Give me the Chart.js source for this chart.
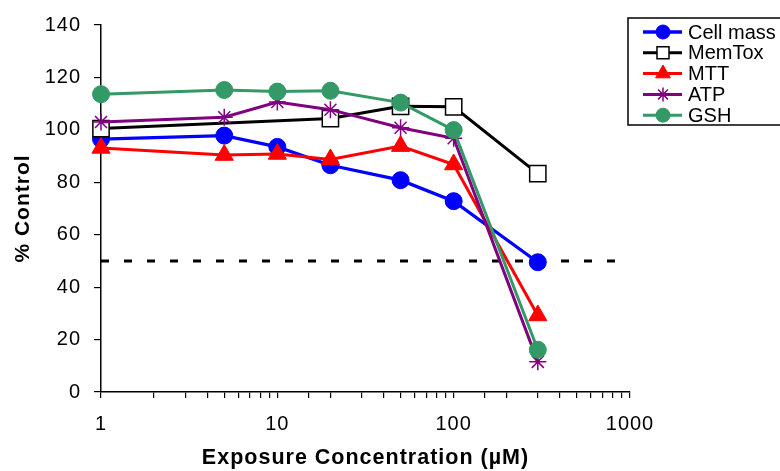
<!DOCTYPE html>
<html>
<head>
<meta charset="utf-8">
<script src="https://cdn.jsdelivr.net/npm/chart.js@4"></script>
<style>
  html, body { margin: 0; padding: 0; background: #fff; }
  #wrap { width: 780px; height: 471px; position: relative; }
</style>
</head>
<body>
<div id="wrap"><canvas id="c" width="780" height="471"></canvas></div>
<script>
// ---- data ----
const concentrations = [1, 5, 10, 20, 50, 100, 300];
const cellMass = [96.5, 97.8, 93.5, 86.5, 80.8, 72.8, 49.5];
const memToxConc = [1, 20, 50, 100, 300];
const memTox = [100.5, 104.3, 109.0, 108.8, 83.3];
const mtt = [93.1, 90.4, 90.8, 88.7, 93.8, 86.8, 29.2];
const atp = [103.0, 104.8, 110.6, 107.7, 100.8, 96.8, 11.5];
const gsh = [113.6, 115.2, 114.6, 114.9, 110.4, 99.9, 16.1];
const thresholdConc = [1, 1000];
const thresholdValue = [50, 50];
const xTickLabels = [1, 10, 100, 1000];
const seriesNames = ['Cell mass', 'MemTox', 'MTT', 'ATP', 'GSH'];

const pts = (xs, ys) => xs.map((x, i) => ({ x: x, y: ys[i] }));
const FONT = "'Liberation Sans', Arial, sans-serif";

const styles = [
  { color: '#0000FF', pointStyle: 'circle', radius: 8.5, fill: '#0000FF', bw: 3.3, legendR: 7 },
  { color: '#000000', pointStyle: 'rect', radius: 11.5, fill: '#FFFFFF', bw: 3, legendR: 8.5, pbw: 1.5 },
  { color: '#FF0000', pointStyle: 'triangle', radius: 10.5, fill: '#FF0000', bw: 3, legendR: 8.5 },
  { color: '#800080', pointStyle: 'star', radius: 8.5, fill: '#800080', bw: 3, legendR: 7, pbw: 1.5 },
  { color: '#339966', pointStyle: 'circle', radius: 8.5, fill: '#339966', bw: 3, legendR: 7 }
];
const seriesData = [
  pts(concentrations, cellMass),
  pts(memToxConc, memTox),
  pts(concentrations, mtt),
  pts(concentrations, atp),
  pts(concentrations, gsh)
];

const datasets = seriesNames.map((name, i) => ({
  label: name,
  data: seriesData[i],
  borderColor: styles[i].color,
  backgroundColor: styles[i].fill,
  borderWidth: styles[i].bw,
  pointStyle: styles[i].pointStyle,
  pointRadius: styles[i].radius,
  pointHoverRadius: styles[i].radius,
  pointBackgroundColor: styles[i].fill,
  pointBorderColor: styles[i].color,
  pointBorderWidth: styles[i].pbw || 1,
  tension: 0,
  fill: false,
  clip: false,
  order: 5 - i
}));
datasets.push({
  label: '50% line',
  data: pts(thresholdConc, thresholdValue),
  borderColor: '#000000',
  borderWidth: 3,
  borderDash: [8, 15],
  borderCapStyle: 'butt',
  pointRadius: 0,
  fill: false,
  clip: false,
  order: 10
});

const spacingPlugin = {
  id: 'letterSpacing',
  beforeUpdate(chart) { chart.ctx.letterSpacing = '1px'; },
  beforeLayout(chart) { chart.ctx.letterSpacing = '1px'; },
  beforeDraw(chart) { chart.ctx.letterSpacing = '1px'; }
};

const legendPlugin = {
  id: 'boxLegend',
  afterDraw(chart) {
    const ctx = chart.ctx;
    const left = 628, top = 18, w = 170, h = 107;
    ctx.save();
    ctx.letterSpacing = '0px';
    ctx.fillStyle = '#ffffff';
    ctx.fillRect(left, top, w, h);
    ctx.strokeStyle = '#000000';
    ctx.lineWidth = 1.5;
    ctx.strokeRect(left, top, w, h);
    seriesNames.forEach((name, i) => {
      const y = 32 + i * 20.8;
      const s = styles[i];
      ctx.strokeStyle = s.color;
      ctx.lineWidth = s.bw;
      ctx.setLineDash([]);
      ctx.beginPath();
      ctx.moveTo(643, y);
      ctx.lineTo(682, y);
      ctx.stroke();
      ctx.fillStyle = s.fill;
      ctx.strokeStyle = s.color;
      ctx.lineWidth = s.pbw || 1;
      Chart.helpers.drawPoint(ctx, { pointStyle: s.pointStyle, radius: s.legendR, borderWidth: s.pbw || 1, rotation: 0 }, 663, y);
      ctx.fillStyle = '#000000';
      ctx.font = '20px ' + FONT;
      ctx.textBaseline = 'middle';
      ctx.textAlign = 'left';
      ctx.fillText(name, 688, y + 1);
    });
    ctx.restore();
  }
};

new Chart(document.getElementById('c'), {
  type: 'line',
  data: { datasets: datasets },
  options: {
    responsive: false,
    animation: false,
    devicePixelRatio: 1,
    layout: { padding: { left: 0, top: 19, right: 150, bottom: 0 } },
    plugins: { legend: { display: false }, tooltip: { enabled: false } },
    scales: {
      x: {
        type: 'logarithmic',
        min: 1,
        max: 1000,
        afterFit(scale) { scale.height = 79; },
        border: { display: true, color: '#000000', width: 1.5 },
        grid: { display: true, drawOnChartArea: false, drawTicks: true, tickLength: 6, color: '#000000', tickColor: '#000000', lineWidth: 1.2 },
        ticks: {
          autoSkip: false,
          maxRotation: 0,
          padding: 14,
          color: '#000000',
          font: { family: FONT, size: 20 },
          callback(value) {
            return xTickLabels.includes(Number(value)) ? String(value) : '';
          }
        },
        title: {
          display: true,
          text: 'Exposure Concentration (µM)',
          color: '#000000',
          font: { family: FONT, size: 21.5, weight: 'bold' },
          padding: { top: 0, bottom: 0 }
        }
      },
      y: {
        min: 0,
        max: 140,
        afterFit(scale) { scale.width = 101; },
        border: { display: true, color: '#000000', width: 1.5 },
        grid: { display: true, drawOnChartArea: false, drawTicks: true, tickLength: 7, color: '#000000', tickColor: '#000000', lineWidth: 1.2 },
        ticks: {
          stepSize: 20,
          padding: 13,
          color: '#000000',
          font: { family: FONT, size: 20 }
        },
        title: {
          display: true,
          text: '% Control',
          color: '#000000',
          font: { family: FONT, size: 21, weight: 'bold' },
          padding: { top: 11, bottom: 0 }
        }
      }
    }
  },
  plugins: [spacingPlugin, legendPlugin]
});
</script>
</body>
</html>
